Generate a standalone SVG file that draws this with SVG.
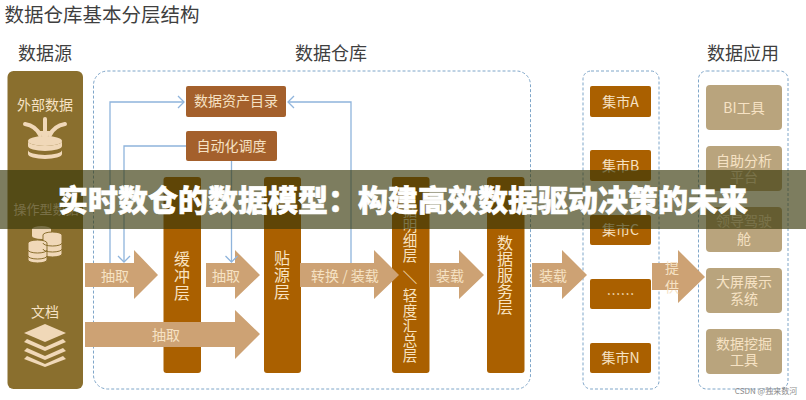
<svg xmlns="http://www.w3.org/2000/svg" width="806" height="400" viewBox="0 0 806 400">
<style>
text{font-family:"Noto Sans CJK SC","Noto Sans",sans-serif;text-anchor:middle}
.head{fill:#3f3f3f;font-size:18px}
.cream{fill:#f6e2c4;font-size:14px}
.v{fill:#f8e3c2;font-size:16px}
.vs{fill:#f8e3c2;font-size:14.500px}
.panel{fill:#8a6f2e}
.box{fill:none;stroke:#7fa6c9;stroke-width:1;stroke-dasharray:3 2}
.layer{fill:#aa6000}
.app{fill:#b9a47d}
.meta{fill:#a4602c}
.arrow{fill:#cda274}
.ic{fill:#f0d8b8}
.icl{fill:none;stroke:#f0d8b8;stroke-width:4;stroke-linecap:round}
.link{fill:none;stroke:#8fb4dc;stroke-width:1.3}
.tip{fill:none;stroke:#8fb4dc;stroke-width:1.3}
</style>
<defs>
<marker id="chev" markerUnits="userSpaceOnUse" markerWidth="14" markerHeight="14" refX="7" refY="7" orient="auto">
<path class="tip" d="M1 1 L7 7 L1 13"/>
</marker>
</defs>
<rect width="806" height="400" fill="#fff"/>
<text id="title" x="102" y="22" font-size="19.500" fill="#3f3f3f">数据仓库基本分层结构</text>
<text class="head" x="45" y="60">数据源</text>
<text class="head" x="331" y="60">数据仓库</text>
<text class="head" x="743" y="60">数据应用</text>

<rect class="box" x="93.500" y="71" width="437" height="318" rx="14"/>
<rect class="box" x="583" y="71" width="76" height="318" rx="8"/>
<rect class="box" x="698.500" y="71" width="89.500" height="318" rx="8"/>

<g id="source">
<rect class="panel" x="7.500" y="71" width="75.500" height="318" rx="6"/>
<text class="cream" x="45" y="110">外部数据</text>
<g id="icon-external">
<path class="icl" d="M25 124 Q36 126 40 135"/>
<path class="icl" d="M65 124 Q54 126 50 135"/>
<path class="icl" d="M45 119 V136" stroke-width="2"/>
<path class="ic" d="M39 131 L45 141 L51 131Z"/>
<ellipse class="ic" cx="45" cy="141" rx="17" ry="5"/>
<path class="ic" d="M28 141 V146 A17 5 0 0 0 62 146 V141 A17 5 0 0 1 28 141Z"/>
<path class="ic" d="M28 150 V154 A17 5 0 0 0 62 154 V150 A17 5 0 0 1 28 150Z"/>
</g>
<text x="46" y="214" font-size="13" fill="#f0d8b8">操作型数据</text>
<g id="icon-operational">
<path class="ic" d="M32 229 A9.500 3 0 0 1 51 229 V236 A9.500 3 0 0 1 32 236Z"/>
<path class="ic" d="M43 235 A9.500 3 0 0 1 62 235 V254 A9.500 3 0 0 1 43 254Z" stroke="#8a6f2e"/>
<path class="ic" d="M28 243 A9.500 3 0 0 1 47 243 V260 A9.500 3 0 0 1 28 260Z" stroke="#8a6f2e"/>
<path d="M43 243 A9.500 3 0 0 0 62 243 M43 249 A9.500 3 0 0 0 62 249 M28 250 A9.500 3 0 0 0 47 250 M28 256 A9.500 3 0 0 0 47 256" fill="none" stroke="#8a6f2e"/>
</g>
<text class="cream" x="45" y="317">文档</text>
<g id="icon-document">
<path class="ic" d="M45 324 L66 333 L45 342 L24 333Z"/>
<path class="ic" d="M27 339 L45 347 L63 339 L66 342 L45 351 L24 342Z"/>
<path class="ic" d="M27 348 L45 356 L63 348 L66 351 L45 360 L24 351Z"/>
<path class="ic" d="M27 356 L45 364 L63 356 L66 359 L45 367 L24 359Z"/>
</g>
</g>

<g id="layer-buffer"><rect class="layer" x="163.500" y="177" width="37.500" height="196" rx="3"/>
<text class="v" x="182" y="265"><tspan>缓</tspan><tspan x="182" dy="17">冲</tspan><tspan x="182" dy="17">层</tspan></text></g>
<g id="layer-ods"><rect class="layer" x="264" y="177" width="37" height="196" rx="3"/>
<text class="v" x="282" y="264"><tspan>贴</tspan><tspan x="282" dy="17">源</tspan><tspan x="282" dy="17">层</tspan></text></g>
<g id="layer-detail"><rect class="layer" x="392" y="177" width="37.500" height="196" rx="3"/>
<text class="vs" x="410" y="216"><tspan>据</tspan><tspan x="410" dy="15">明</tspan><tspan x="410" dy="15">细</tspan><tspan x="410" dy="15">层</tspan><tspan x="410" dy="22">＼</tspan><tspan x="410" dy="18">轻</tspan><tspan x="410" dy="15">度</tspan><tspan x="410" dy="15">汇</tspan><tspan x="410" dy="15">总</tspan><tspan x="410" dy="15">层</tspan></text></g>
<g id="layer-service"><rect class="layer" x="487" y="177" width="37.500" height="196" rx="3"/>
<text class="v" x="505" y="249"><tspan>数</tspan><tspan x="505" dy="16">据</tspan><tspan x="505" dy="16">服</tspan><tspan x="505" dy="16">务</tspan><tspan x="505" dy="16">层</tspan></text></g>

<g id="connectors">
<path class="arrow" d="M85 263 H134 V250 L158 275 L134 299 V287 H85Z"/>
<path class="arrow" d="M206 263 H235 V250 L260 275 L235 299 V287 H206Z"/>
<path class="arrow" d="M85 322 H235 V310 L260 334 L235 359 V347 H85Z"/>
<path class="arrow" d="M300 263 H374 V250 L399 275 L374 299 V287 H300Z"/>
<path class="arrow" d="M430 263 H459 V250 L484 275 L459 299 V287 H430Z"/>
<path class="arrow" d="M532 263 H562 V250 L587 275 L562 299 V287 H532Z"/>
<path class="arrow" d="M652 263 H678 V250 L705 277 L678 303 V290 H652Z"/>
</g>

<g id="arrow-labels">
<text class="cream" x="115" y="281">抽取</text>
<text class="cream" x="226" y="281">抽取</text>
<text class="cream" x="166" y="340">抽取</text>
<text class="cream" x="345" y="281">转换 / 装载</text>
<text class="cream" x="450" y="281">装载</text>
<text class="cream" x="553" y="281">装载</text>
<text class="cream" x="672" y="273">提</text>
<text class="cream" x="672" y="292">供</text>
</g>

<g id="meta-catalog"><rect class="meta" x="186" y="86" width="100" height="31" rx="2"/>
<text class="cream" x="236" y="106">数据资产目录</text></g>
<g id="meta-schedule"><rect class="meta" x="186" y="131" width="91" height="30" rx="2"/>
<text class="cream" x="231.500" y="151">自动化调度</text></g>

<g id="links">
<path class="link" d="M110 263 V102 H184" marker-end="url(#chev)"/>
<path class="link" d="M351 263 V102 H288" marker-end="url(#chev)"/>
<path class="link" d="M186 146 H124 V262" marker-end="url(#chev)"/>
<path class="link" d="M231.500 161 V262" marker-end="url(#chev)"/>
</g>

<g id="mart-a"><rect class="layer" x="590" y="86" width="61" height="31" rx="2"/><text class="cream" x="620.500" y="107">集市A</text></g>
<g id="mart-b"><rect class="layer" x="590" y="150" width="61" height="31" rx="2"/><text class="cream" x="620.500" y="171">集市B</text></g>
<g id="mart-c"><rect class="layer" x="590" y="215" width="61" height="30" rx="2"/><text class="cream" x="620.500" y="235">集市C</text></g>
<g id="mart-etc"><rect class="layer" x="590" y="279" width="61" height="30" rx="2"/><text class="cream" x="620.500" y="299">……</text></g>
<g id="mart-n"><rect class="layer" x="590" y="343" width="61" height="30" rx="2"/><text class="cream" x="620.500" y="363">集市N</text></g>

<g id="app-bi"><rect class="app" x="706" y="85" width="76" height="45" rx="4"/><text class="cream" x="744" y="113">BI工具</text></g>
<g id="app-self"><rect class="app" x="706" y="146" width="76" height="45" rx="4"/><text class="cream" x="744" y="166">自助分析</text><text class="cream" x="744" y="182">平台</text></g>
<g id="app-cockpit"><rect class="app" x="706" y="207" width="76" height="45" rx="4"/><text class="cream" x="744" y="226">领导驾驶</text><text class="cream" x="744" y="244">舱</text></g>
<g id="app-screen"><rect class="app" x="706" y="268" width="76" height="45" rx="4"/><text class="cream" x="744" y="287">大屏展示</text><text class="cream" x="744" y="304">系统</text></g>
<g id="app-mining"><rect class="app" x="706" y="329" width="76" height="45" rx="4"/><text class="cream" x="744" y="349">数据挖掘</text><text class="cream" x="744" y="365">工具</text></g>

<text id="watermark" x="766" y="394" font-size="8" fill="#8a8a8a">CSDN @独来数河</text>

<g id="banner">
<rect x="0" y="170" width="806" height="59" fill="rgb(55,55,9)" fill-opacity="0.650"/>
<text x="403" y="211" font-size="30" font-weight="900" fill="#fff" stroke="#fff" stroke-width="0.600">实时数仓的数据模型：构建高效数据驱动决策的未来</text>
</g>
</svg>
